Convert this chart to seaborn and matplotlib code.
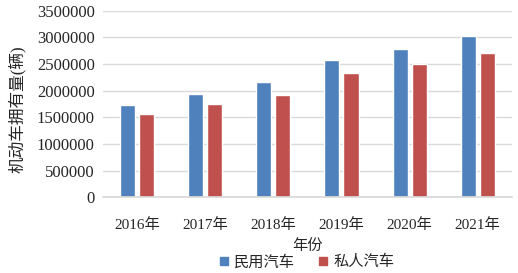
import pandas as pd
import matplotlib
matplotlib.use("Agg")
import matplotlib.pyplot as plt
import seaborn as sns

years = ["2016年", "2017年", "2018年", "2019年", "2020年", "2021年"]
civil_cars = [1730000, 1942000, 2156000, 2580000, 2786000, 3024000]
private_cars = [1567000, 1755000, 1923000, 2325000, 2505000, 2700000]
series_names = ["民用汽车", "私人汽车"]
colors = ["#4F81BD", "#C0504D"]

df = pd.DataFrame({
    "年份": years * 2,
    "数量": civil_cars + private_cars,
    "类型": [series_names[0]] * len(years) + [series_names[1]] * len(years),
})

sns.set_theme(style="white")
plt.rcParams["font.family"] = ["Liberation Serif", "Noto Sans CJK SC"]

fig = plt.figure(figsize=(5.18, 2.73), dpi=100)
ax = fig.add_axes([0.199, 0.277, 0.789, 0.684])

sns.barplot(data=df, x="年份", y="数量", hue="类型", palette=colors,
            width=0.56, gap=0.21, ax=ax, legend=False, saturation=1)

ax.set_ylim(0, 3500000)
ax.set_yticks(range(0, 3500001, 500000))
ax.set_yticklabels([str(v) for v in range(0, 3500001, 500000)], fontsize=12)
ax.tick_params(axis="x", labelsize=11, length=0, pad=15)
ax.tick_params(axis="y", length=0, pad=6)
ax.yaxis.grid(True, color="#D9D9D9", linewidth=1)
ax.set_axisbelow(True)
for s in ["left", "top", "right"]:
    ax.spines[s].set_visible(False)
ax.spines["bottom"].set_color("#D9D9D9")
ax.set_xlim(-0.5, 5.5)

ax.set_xlabel("年份", fontsize=11, labelpad=5)
ax.set_ylabel("机动车拥有量(辆)", fontsize=12)
ax.yaxis.set_label_coords(-0.19, 0.47)

handles = [plt.Rectangle((0, 0), 1, 1, color=c) for c in colors]
fig.legend(handles, series_names, loc="center", bbox_to_anchor=(0.593, 0.04),
           ncol=2, frameon=False, fontsize=11, handlelength=0.5, handleheight=0.5,
           handletextpad=0.4, columnspacing=1.6)

fig.savefig("out.png", dpi=100)
